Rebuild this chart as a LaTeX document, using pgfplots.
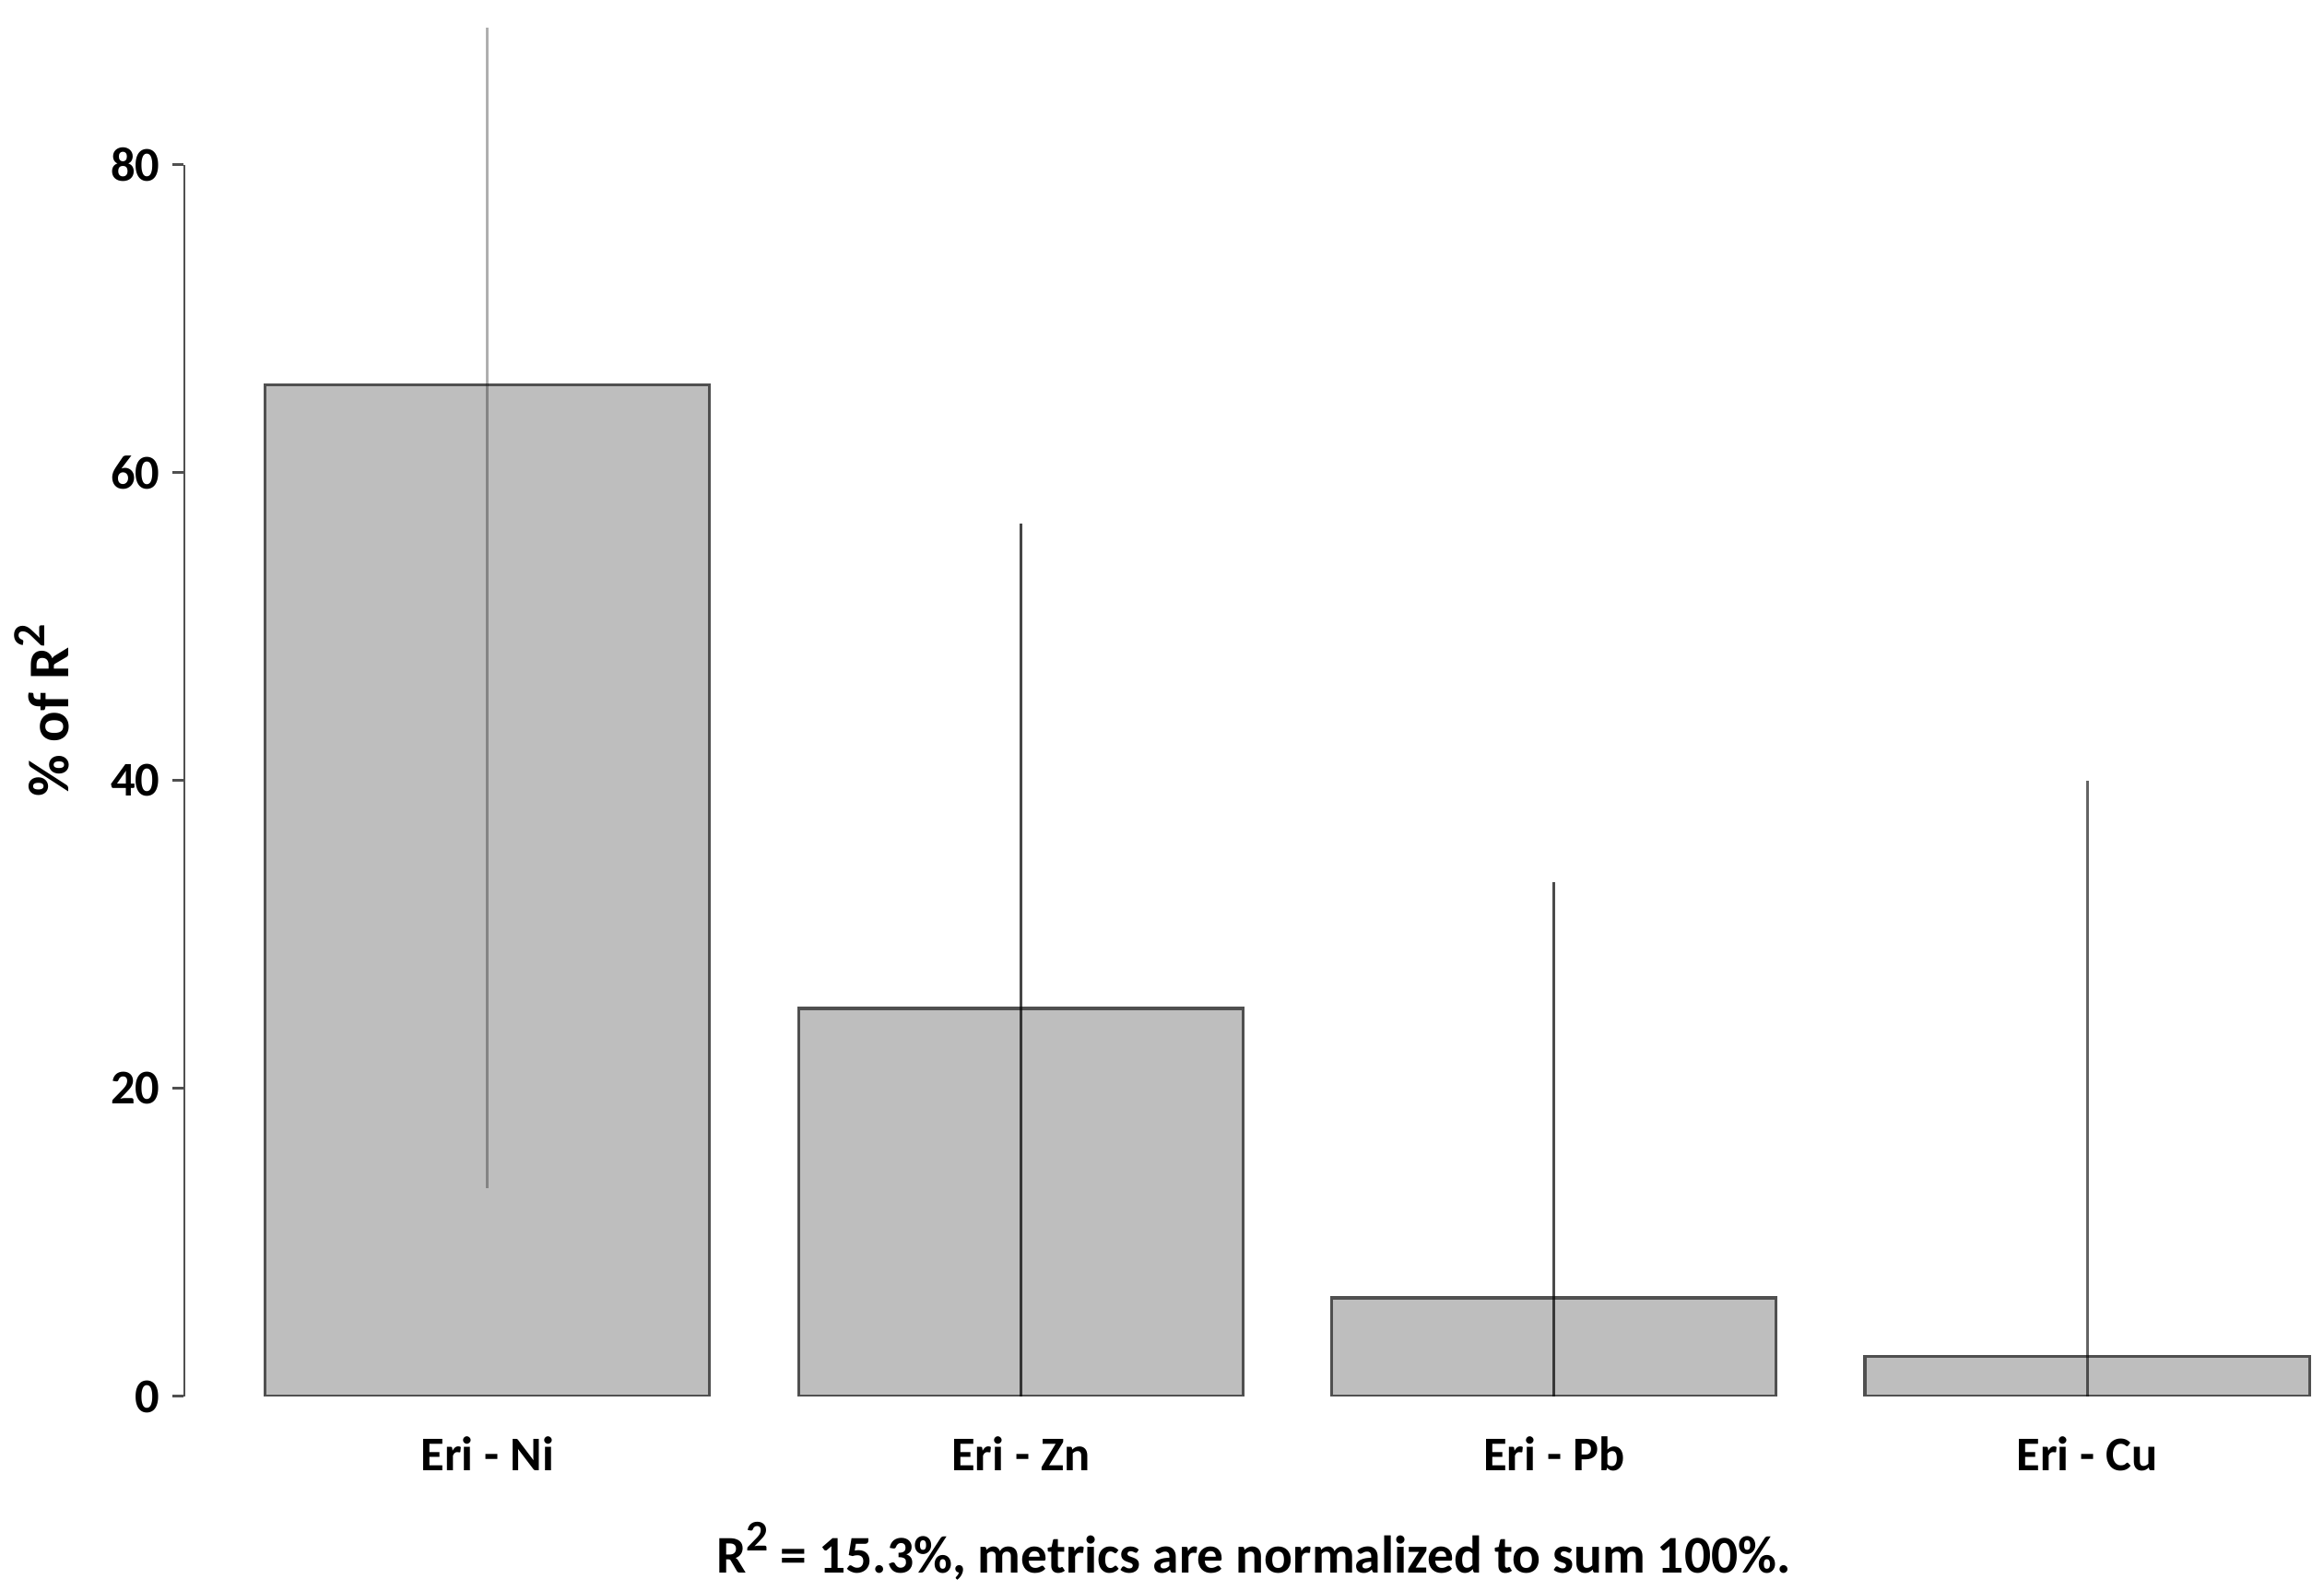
\documentclass[border=0pt]{standalone}
\usepackage{pgfplots}
\pgfplotsset{compat=1.18}
\usepackage{fontspec}
\setmainfont{Carlito}
\definecolor{barfill}{RGB}{190,190,190}
\definecolor{edge}{RGB}{80,80,80}
\begin{document}
\begin{tikzpicture}
\begin{axis}[
  name=ax,
  scale only axis,
  width=464.4pt, height=303pt,
  xmin=0.016, xmax=4.833,
  ymin=0, ymax=90.7,
  axis x line*=bottom,
  axis y line*=left,
  x axis line style={draw=none},
  y axis line style={draw=none},
  xtick={0.7,1.9,3.1,4.3},
  xticklabels={Eri - Ni, Eri - Zn, Eri - Pb, Eri - Cu},
  xtick style={draw=none},
  ytick={0,20,40,60,80},
  tick align=outside,
  major tick length=2.4pt,
  ytick style={edge, line width=0.6pt},
  /pgf/number format/assume math mode=true,
  yticklabel style={font=\fontsize{10.5}{12}\selectfont\bfseries, inner sep=1pt, xshift=-1.5pt},
  xticklabel style={font=\fontsize{10.5}{12}\selectfont\bfseries, anchor=center, yshift=-10pt},
  ylabel={\bfseries\% of R\raisebox{0.42em}{\fontsize{10}{12}\selectfont 2}},
  ylabel style={font=\fontsize{12.5}{14}\selectfont, at={(axis description cs:-0.0663,0.491)}, anchor=center},
  xlabel={\bfseries R\raisebox{0.42em}{\fontsize{9.5}{12}\selectfont 2} = 15.3\%, metrics are normalized to sum 100\%.},
  xlabel style={font=\fontsize{11.5}{14}\selectfont, at={(axis description cs:0.5,0)}, yshift=-33.6pt, anchor=center},
  error bars/error mark=none,
]
\draw[edge, line width=0.6pt] (axis cs:0.016,0) -- (axis cs:0.016,80);
\addplot[ybar, bar width=1, bar shift=0pt, fill=barfill, draw=edge, line width=0.65pt,
  error bars/.cd, y dir=both, y explicit,
  error bar style={draw=black, draw opacity=0.3, line width=0.6pt}]
  coordinates {(0.7,65.7) += (0,23.2) -= (0,52.2)};
\addplot[ybar, bar width=1, bar shift=0pt, fill=barfill, draw=edge, line width=0.65pt,
  error bars/.cd, y dir=both, y explicit,
  error bar style={draw=black, draw opacity=0.72, line width=0.6pt}]
  coordinates {(1.9,25.2) += (0,31.5) -= (0,25.2)};
\addplot[ybar, bar width=1, bar shift=0pt, fill=barfill, draw=edge, line width=0.65pt,
  error bars/.cd, y dir=both, y explicit,
  error bar style={draw=black, draw opacity=0.7, line width=0.6pt}]
  coordinates {(3.1,6.4) += (0,27.0) -= (0,6.4)};
\addplot[ybar, bar width=1, bar shift=0pt, fill=barfill, draw=edge, line width=0.65pt,
  error bars/.cd, y dir=both, y explicit,
  error bar style={draw=black, draw opacity=0.6, line width=0.6pt}]
  coordinates {(4.3,2.6) += (0,37.4) -= (0,2.6)};
\end{axis}
\pgfresetboundingbox
\path (ax.south west) ++(-39.8pt,-42.2pt) coordinate (bbsw);
\path (bbsw) rectangle (ax.north east);
\end{tikzpicture}
\end{document}
